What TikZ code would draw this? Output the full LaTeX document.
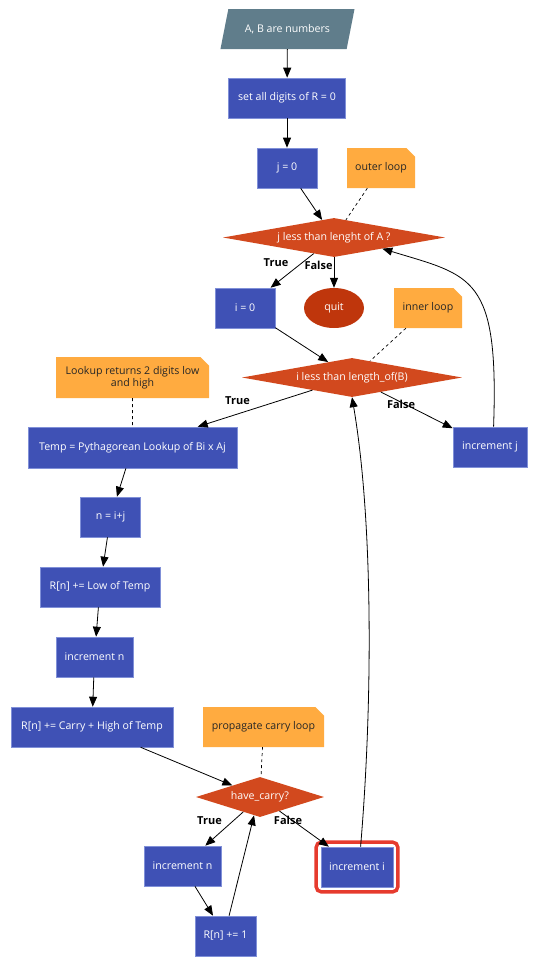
\documentclass[tikz,border=0pt]{standalone}
\usepackage{fontspec}
\setmainfont{Open Sans}
\usetikzlibrary{shapes.geometric,shapes.misc,arrows.meta}

\definecolor{procfill}{HTML}{3F51B5}
\definecolor{procline}{HTML}{8090D8}
\definecolor{inputfill}{HTML}{607D8B}
\definecolor{decfill}{HTML}{D2491E}
\definecolor{endfill}{HTML}{BF360C}
\definecolor{notefill}{HTML}{FFAB40}
\definecolor{hilite}{HTML}{E63B2E}

\begin{document}
\begin{tikzpicture}[x=1pt, y=-1pt,
    >={Triangle[length=10pt,width=8pt]},
    every node/.style={font=\fontsize{10.6}{12.5}\selectfont, inner sep=0pt},
    proc/.style={draw=procline, line width=0.6pt, fill=procfill, text=white, minimum height=40pt},
    decision/.style={diamond, fill=decfill, text=white, minimum height=39pt},
    note/.style={chamfered rectangle, chamfered rectangle corners=north east,
        chamfered rectangle xsep=5pt, fill=notefill, text=black!85, minimum height=40pt},
    lbl/.style={font=\fontsize{11}{13}\selectfont\bfseries, text=black},
    flow/.style={->, line width=0.8pt},
    link/.style={dashed, line width=0.7pt}]
            \useasboundingbox (0,0) rectangle (535,959);

            \node [trapezium, trapezium left angle=59, trapezium right angle=121, trapezium stretches=true,
                fill=inputfill, text=white, minimum width=135pt, minimum height=40pt] (inp) at (287.5,29) {A, B are numbers};
            \node [proc, minimum width=117pt] (setR) at (287,98) {set all digits of R = 0};
            \node [proc, minimum width=60pt] (j0) at (287,168) {j = 0};
            \node [note, minimum width=68pt] (outer) at (381,168) {outer loop};
            \node [decision, aspect=5.7, minimum width=222pt] (d1) at (334,237.5) {j less than lenght of A ?};
            \node [proc, minimum width=60pt] (i0) at (245,308) {i = 0};
            \node [ellipse, fill=endfill, text=white, minimum width=60pt, minimum height=40pt] (quit) at (334,308) {quit};
            \node [note, minimum width=68pt] (inner) at (428,308) {inner loop};
            \node [decision, aspect=5.6, minimum width=220pt] (d2) at (352,377.5) {i less than length\_of(B)};
            \node [note, minimum width=153pt, minimum height=41pt, align=center] (lookup) at (132.5,377.5) {Lookup returns 2 digits low\\and high};
            \node [proc, minimum width=209pt, minimum height=41pt] (temp) at (132.5,447.5) {Temp = Pythagorean Lookup of Bi x Aj};
            \node [proc, minimum width=74pt] (incj) at (490,447) {increment j};
            \node [proc, minimum width=60pt] (nij) at (110.5,517) {n = i+j};
            \node [proc, minimum width=120pt] (rlow) at (100,587) {R[n] += Low of Temp};
            \node [proc, minimum width=77pt] (incn) at (94.5,657) {increment n};
            \node [proc, minimum width=162pt] (rcarry) at (92,727) {R[n] += Carry + High of Temp};
            \node [note, minimum width=121pt] (prop) at (263.5,727) {propagate carry loop};
            \node [decision, aspect=3.2, minimum width=128pt, minimum height=40pt] (hc) at (260,797) {have\_carry?};
            \node [proc, minimum width=77pt] (incn2) at (182.5,866) {increment n};
            \node [proc, minimum width=61pt] (rone) at (225.5,936) {R[n] += 1};
            \node [proc, minimum width=72pt] (inci) at (357,867) {increment i};
            \draw [hilite, line width=3.5pt, rounded corners=5pt]
                ([xshift=-4.5pt,yshift=-4.5pt]inci.south west) rectangle ([xshift=4.5pt,yshift=4.5pt]inci.north east);

            % branch labels
            \node [lbl] (t1) at (276,263) {True};
            \node [lbl] (f1) at (318.5,265) {False};
            \node [lbl] (t2) at (237.5,401) {True};
            \node [lbl] (f2) at (401,404) {False};
            \node [lbl] (t3) at (209.5,821) {True};
            \node [lbl] (f3) at (288,820) {False};

            \draw [flow] (inp) -- (setR);
            \draw [flow] (setR) -- (j0);
            \draw [flow] (j0) -- (d1);
            \draw [link] (outer) -- (d1);
            \draw [flow] (d1) -- (i0);
            \draw [flow] (d1) -- (quit);
            \draw [flow] (i0) -- (d2);
            \draw [link] (inner) -- (d2);
            \draw [flow] (d2) -- (temp);
            \draw [flow] (d2) -- (incj);
            \draw [flow] (incj.80) .. controls (499,275) and (472,276) .. (d1.-13);
            \draw [link] (lookup) -- (temp);
            \draw [flow] (temp) -- (nij);
            \draw [flow] (nij) -- (rlow);
            \draw [flow] (rlow) -- (incn);
            \draw [flow] (incn) -- (rcarry);
            \draw [flow] (rcarry) -- (hc);
            \draw [link] (prop) -- (hc);
            \draw [flow] (hc) -- (incn2);
            \draw [flow] (hc) -- (inci);
            \draw [flow] (incn2) -- (rone);
            \draw [flow] (rone.80) -- (hc.252);
            \draw [flow] (inci.80) .. controls (373,700) and (373,520) .. (d2.south);
            \end{tikzpicture}
\end{document}
